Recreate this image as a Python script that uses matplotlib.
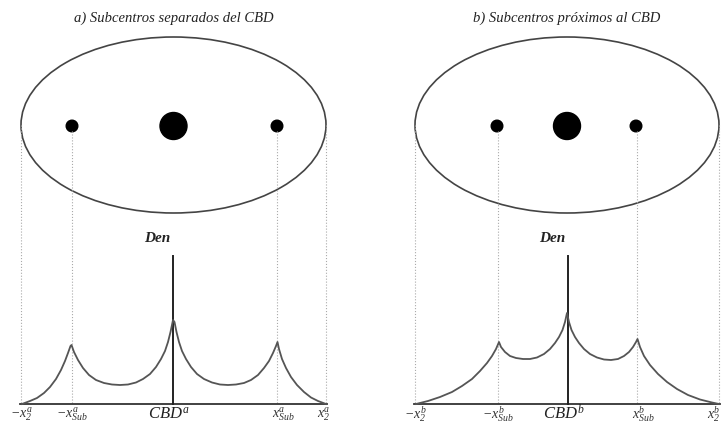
import matplotlib.pyplot as plt
from matplotlib.patches import Ellipse, Circle

plt.rcParams['mathtext.fontset'] = 'custom'
plt.rcParams['mathtext.it'] = 'Liberation Serif:italic'
plt.rcParams['mathtext.rm'] = 'Liberation Serif:italic'

# panel geometry (pixel units, y grows downward)
titles = ['a) Subcentros separados del CBD', 'b) Subcentros próximos al CBD']
tags = ['a', 'b']
ellipse_cx = [173.5, 567]
ellipse_w = [305, 304]
ellipse_cy = 125
ellipse_h = 176
sub_dots = [[72, 277], [497, 636]]
guide_x = [[21, 72, 277, 326], [415, 498, 637, 719]]
cbd_x = [173, 568]
base_y = 404

# density profile, height above the baseline
dens_x_a = [22, 30, 37, 44, 50, 56, 61, 65, 68, 70.5,
            71.5, 74, 78, 83, 89, 96, 104, 112, 120, 128, 136, 143, 150, 156, 161, 165, 168, 170.5, 173,
            174.5, 176.5, 179, 182, 186, 191, 197, 204, 212, 220, 228, 236, 244, 251, 258, 264, 269, 273, 276, 277.5,
            279, 282, 286, 291, 297, 304, 311, 318, 326]
dens_h_a = [0, 3, 6, 11, 17, 25, 34, 43, 51, 58,
            59, 52, 44, 36, 29, 24, 21, 19.5, 19, 19.5, 21.5, 25, 30, 37, 45, 53, 62, 72, 84,
            82, 72, 62, 53, 45, 37, 30, 25, 21.5, 19.5, 19, 19.5, 21, 24, 29, 36, 43, 51, 58, 62,
            55, 45, 36, 27, 19, 12, 6.5, 3, 0]
dens_x_b = [416, 428, 440, 452, 462, 472, 480, 487, 492, 496, 499,
            501, 505, 510, 516, 523, 530, 537, 544, 550, 555, 559, 562.5, 565, 567,
            569, 571.5, 575, 579, 584, 590, 597, 604, 611, 618, 624, 629, 633, 636, 637.5,
            640, 644, 650, 658, 667, 677, 688, 700, 712, 719]
dens_h_b = [0, 3, 7, 12, 18, 25, 33, 41, 48, 55, 62,
            57, 52, 48, 46, 45, 45, 46.5, 50, 55, 61, 67, 74, 82, 91,
            82, 74, 67, 61, 55, 50, 46.5, 44.5, 44, 45, 48, 52, 57, 62, 65,
            57, 48, 39, 30, 22, 15, 9, 4.5, 1.5, 0]
dens_x = [dens_x_a, dens_x_b]
dens_h = [dens_h_a, dens_h_b]

fig = plt.figure(figsize=(7.22, 4.25), dpi=100)
ax = fig.add_axes([0, 0, 1, 1])
ax.set_xlim(0, 722)
ax.set_ylim(425, 0)
ax.axis('off')

for i in range(2):
    t = tags[i]
    cx = ellipse_cx[i]
    ax.text(cx, 18, titles[i], ha='center', va='center', fontsize=10.5,
            family='Liberation Serif', style='italic', color='#222')
    ax.add_patch(Ellipse((cx, ellipse_cy), ellipse_w[i], ellipse_h, fill=False,
                         edgecolor='#444', lw=1.2))
    ax.add_patch(Circle((cx, ellipse_cy + 1), 13.5, color='black'))
    for sx in sub_dots[i]:
        ax.add_patch(Circle((sx, ellipse_cy + 1), 5.8, color='black'))

    # dotted guides down to the axis
    g = guide_x[i]
    for k, gx in enumerate(g):
        top = ellipse_cy if k in (0, 3) else ellipse_cy + 6
        ax.plot([gx, gx], [top, base_y], color='#aaa', lw=0.8, ls=':')

    ax.plot([g[0] - 1, g[3] + 1], [base_y, base_y], color='#333', lw=1.3)
    ax.plot([cbd_x[i], cbd_x[i]], [256, base_y], color='#222', lw=1.4)
    ax.plot(dens_x[i], [base_y - h for h in dens_h[i]], color='#555', lw=1.3)

    ax.text(cbd_x[i] - 16, 238, 'Den', ha='center', va='center', fontsize=11,
            family='Liberation Serif', style='italic', weight='bold', color='#222')

    ly = 414
    ax.text(g[0], ly, r'$-x^{%s}_{2}$' % t, ha='center', va='center', fontsize=10, color='#333')
    ax.text(g[1], ly, r'$-x^{%s}_{Sub}$' % t, ha='center', va='center', fontsize=10, color='#333')
    ax.text(cbd_x[i] - 4, ly, r'$CBD^{%s}$' % t, ha='center', va='center', fontsize=12, color='#222')
    ax.text(g[2] + 6, ly, r'$x^{%s}_{Sub}$' % t, ha='center', va='center', fontsize=10, color='#333')
    if g[3] + 8 > 722:
        ax.text(720, ly, r'$x^{%s}_{2}$' % t, ha='right', va='center', fontsize=10, color='#333')
    else:
        ax.text(g[3] - 2, ly, r'$x^{%s}_{2}$' % t, ha='center', va='center', fontsize=10, color='#333')

fig.savefig('out.png', dpi=100)
